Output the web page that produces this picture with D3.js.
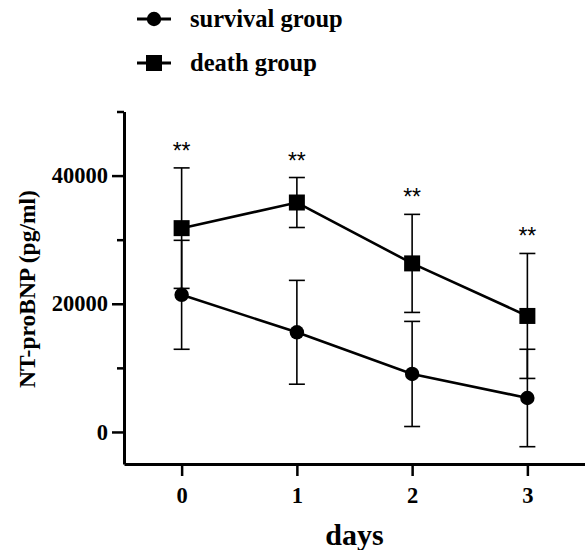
<!DOCTYPE html>
<html><head><meta charset="utf-8">
<script src="https://cdn.jsdelivr.net/npm/d3@7"></script>
<style>body{margin:0;background:#fff}svg{display:block}</style>
</head><body>
<script>
const days = [0, 1, 2, 3];
const survivalMean = [21400, 15550, 9050, 5300];
const survivalSD = [8500, 8100, 8200, 7600];
const deathMean = [31800, 35800, 26300, 18100];
const deathSD = [9400, 3900, 7650, 9750];
const sigLabels = ["**", "**", "**", "**"];
const yTicks = [0, 20000, 40000];
const yMinorTicks = [10000, 30000, 50000];
const seriesNames = ["survival group", "death group"];

const W = 585, H = 550;
const svg = d3.select("body").append("svg").attr("width", W).attr("height", H);
const x = d3.scaleLinear().domain([-0.5, 3.5]).range([124, 585]);
const y = d3.scaleLinear().domain([-5000, 50000]).range([464, 111.5]);
const serif = "'Liberation Serif', 'Times New Roman', serif";

// axes
const yAxis = d3.axisLeft(y).tickValues(yTicks).tickSize(12).tickSizeOuter(0).tickPadding(4).tickFormat(d3.format("d"));
const gy = svg.append("g").attr("transform", `translate(${x(-0.5)},0)`).call(yAxis);
gy.select(".domain").attr("stroke-width", 3);
gy.selectAll(".tick line").attr("stroke-width", 2.5);
gy.selectAll(".tick text").attr("font-family", serif).attr("font-weight", "bold").attr("font-size", 22.5).attr("fill", "#000");
const gyMinor = svg.append("g").attr("transform", `translate(${x(-0.5)},0)`)
  .call(d3.axisLeft(y).tickValues(yMinorTicks).tickSize(7).tickSizeOuter(0).tickFormat(""));
gyMinor.select(".domain").remove();
gyMinor.selectAll(".tick line").attr("stroke-width", 2.5);

const xAxis = d3.axisBottom(x).tickValues(days).tickSize(12).tickSizeOuter(0).tickPadding(11).tickFormat(d3.format("d"));
const gx = svg.append("g").attr("transform", `translate(0,${y(-5000)})`).call(xAxis);
gx.select(".domain").attr("stroke-width", 3);
gx.selectAll(".tick line").attr("stroke-width", 2.5);
gx.selectAll(".tick text").attr("font-family", serif).attr("font-weight", "bold").attr("font-size", 22.5).attr("fill", "#000");

svg.append("text").attr("x", x(1.5)).attr("y", 545).attr("text-anchor", "middle")
  .attr("font-family", serif).attr("font-weight", "bold").attr("font-size", 30).text("days");
svg.append("text").attr("transform", `translate(35,${y(22300)}) rotate(-90)`).attr("text-anchor", "middle")
  .attr("font-family", serif).attr("font-weight", "bold").attr("font-size", 23.5).text("NT-proBNP (pg/ml)");

function drawSeries(means, sds, shape) {
  const g = svg.append("g");
  const data = days.map((d, i) => ({d, m: means[i], s: sds[i]}));
  data.forEach(p => {
    const cx = x(p.d);
    g.append("line").attr("x1", cx).attr("x2", cx).attr("y1", y(p.m + p.s)).attr("y2", y(p.m - p.s)).attr("stroke", "#000").attr("stroke-width", 1.6);
    [p.m + p.s, p.m - p.s].forEach(v => g.append("line").attr("x1", cx - 8).attr("x2", cx + 8).attr("y1", y(v)).attr("y2", y(v)).attr("stroke", "#000").attr("stroke-width", 1.6));
  });
  g.append("path").datum(data).attr("fill", "none").attr("stroke", "#000").attr("stroke-width", 2.6)
    .attr("d", d3.line().x(p => x(p.d)).y(p => y(p.m)));
  data.forEach(p => {
    if (shape === "circle") g.append("circle").attr("cx", x(p.d)).attr("cy", y(p.m)).attr("r", 7.2).attr("fill", "#000");
    else g.append("rect").attr("x", x(p.d) - 8).attr("y", y(p.m) - 8).attr("width", 16).attr("height", 16).attr("fill", "#000");
  });
}
drawSeries(survivalMean, survivalSD, "circle");
drawSeries(deathMean, deathSD, "square");

// significance
svg.selectAll(".sig").data(days).enter().append("text")
  .attr("x", d => x(d)).attr("y", (d, i) => y(deathMean[i] + deathSD[i]) - 9)
  .attr("text-anchor", "middle").attr("font-family", "'Liberation Sans', Arial, sans-serif").attr("font-size", 23)
  .text((d, i) => sigLabels[i]);

// legend
const legY = [19, 63];
seriesNames.forEach((name, i) => {
  const g = svg.append("g").attr("transform", `translate(0,${legY[i]})`);
  g.append("line").attr("x1", 137).attr("x2", 171).attr("stroke", "#000").attr("stroke-width", 3.2);
  if (i === 0) g.append("circle").attr("cx", 154).attr("r", 7.2);
  else g.append("rect").attr("x", 146).attr("y", -8).attr("width", 16).attr("height", 16);
  g.append("text").attr("x", 190).attr("y", 7.5).attr("font-family", serif).attr("font-weight", "bold").attr("font-size", 24.5).text(name);
});
</script>
</body></html>
